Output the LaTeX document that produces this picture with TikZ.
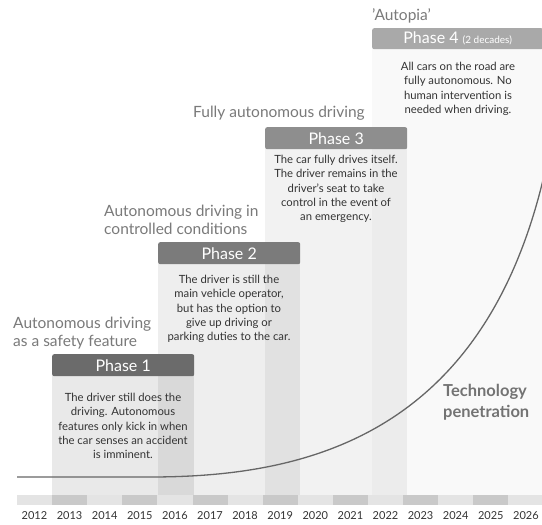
\documentclass[tikz,border=0pt]{standalone}
\usepackage{fontspec}
\setmainfont{Lato}
\usetikzlibrary{positioning}

\definecolor{ink}{HTML}{333333}
\definecolor{ttlgray}{HTML}{7A7A7A}
\definecolor{tilelt}{HTML}{E4E4E4}
\definecolor{tiledk}{HTML}{C9C9C9}
\definecolor{hdra}{HTML}{6B6B6B}
\definecolor{hdrb}{HTML}{7B7B7B}
\definecolor{hdrc}{HTML}{8E8E8E}
\definecolor{hdrd}{HTML}{A9A9A9}

\begin{document}
\begin{tikzpicture}[x=1pt,y=-1pt,
  col/.style={fill=black,fill opacity=#1},
  hdr/.style={rectangle,rounded corners=2pt,anchor=north west,minimum height=22pt,inner sep=0pt,text=white,font=\fontsize{16}{18}\selectfont},
  body/.style={anchor=north,align=center,inner sep=0pt,text=ink,font=\fontsize{11.3}{14.3}\selectfont},
  ttl/.style={anchor=north west,align=left,inner sep=0pt,text=ttlgray,font=\fontsize{15.5}{17.5}\selectfont},
  yr/.style={inner sep=0pt,text=ink,font=\fontsize{11}{12}\selectfont},
  curve/.style={draw=black!60,line width=1.3pt}
]
  \useasboundingbox (0,0) rectangle (542,525);
  \fill[white] (0,0) rectangle (542,525);

  \fill[col=0.085] (52,356) rectangle (194,495);
  \fill[col=0.065] (158,244) rectangle (300,495);
  \fill[col=0.05]  (265,129) rectangle (407,495);
  \fill[col=0.025] (372,30)  rectangle (543,495);

  \foreach \i in {0,...,14} {
    \pgfmathtruncatemacro\yr{2012+\i}
    \ifodd\i \def\c{tiledk}\else\def\c{tilelt}\fi
    \fill[\c] ({17+35.1*\i},495) rectangle ({52.1+35.1*\i},505);
    \node[yr] (y\yr) at ({34.5+35.1*\i},516) {\yr};
  }

  \draw[curve] (17,477) -- (150,477) .. controls (300,477) and (480,440) .. (543,180);

  \node[hdr,fill=hdra,minimum width=142pt] (ph1) at (52,354)  {Phase 1};
  \node[hdr,fill=hdrb,minimum width=142pt] (ph2) at (158,242) {Phase 2};
  \node[hdr,fill=hdrc,minimum width=142pt] (ph3) at (265,127) {Phase 3};
  \node[hdr,fill=hdrd,minimum width=171pt,minimum height=21pt] (ph4) at (372,28)
    {Phase 4 {\fontsize{10}{11}\selectfont (2 decades)}};

  \node[ttl] (ttl1) at (13,317)  {Autonomous driving\\as a safety feature};
  \node[ttl] (ttl2) at (104,205) {Autonomous driving in\\controlled conditions};
  \node[ttl] (ttl3) at (193,106) {Fully autonomous driving};
  \node[ttl] (ttl4) at (372,8)   {'Autopia'};

  \node[body] (txt1) at (123,393) {The driver still does the\\driving. Autonomous\\features only kick in when\\the car senses an accident\\is imminent.};
  \node[body] (txt2) at (229,275) {The driver is still the\\main vehicle operator,\\but has the option to\\give up driving or\\parking duties to the car.};
  \node[body] (txt3) at (336,155) {The car fully drives itself.\\The driver remains in the\\driver's seat to take\\control in the event of\\an emergency.};
  \node[body] (txt4) at (458,62)  {All cars on the road are\\fully autonomous. No\\human intervention is\\needed when driving.};

  \node[anchor=north west,align=left,inner sep=0pt,text=black!55,font=\bfseries\fontsize{16.5}{21}\selectfont] (tech) at (443,384) {Technology\\penetration};
\end{tikzpicture}
\end{document}
